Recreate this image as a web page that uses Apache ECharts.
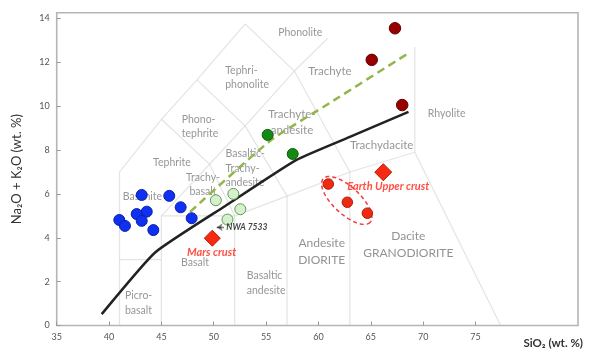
<!DOCTYPE html>
<html><head><meta charset="utf-8">
<script src="https://cdn.jsdelivr.net/npm/echarts@6/dist/echarts.min.js"></script>
<style>html,body{margin:0;padding:0;background:#fff}#c{width:590px;height:354px}</style>
</head><body><div id="c"></div>
<script>
// Axis ticks
const xTickValues = [35, 40, 45, 50, 55, 60, 65, 70, 75];
const yTickValues = [0, 2, 4, 6, 8, 10, 12, 14];

// TAS field boundaries (SiO2, Na2O+K2O)
const tasBoundaries = [
  [[41, 0], [41, 3], [41, 7], [45, 9.4], [48.4, 11.2], [53, 13.75]],
  [[41, 3], [45, 3]],
  [[45, 0], [45, 3], [45, 5]],
  [[45, 5], [49.6, 7.35], [53, 9.1], [57.7, 11.6]],
  [[57.7, 11.6], [60.9, 13.1]],
  [[45, 9.4], [49.6, 7.35], [52, 5]],
  [[48.4, 11.2], [53, 9.1], [57, 5.9]],
  [[53, 13.75], [57.7, 11.6], [63, 7]],
  [[45, 5], [52, 5], [57, 5.9], [63, 7], [69.2, 7.9]],
  [[69.2, 7.9], [69.2, 12.7]],
  [[69.2, 7.9], [77.4, 0]],
  [[52, 0], [52, 5]],
  [[57, 0], [57, 5.9]],
  [[63, 0], [63, 7]]
];

// Alkaline / subalkaline divider (solid black) and dashed green trend
const alkalineDivider = [[39.3, 0.52], [44.4, 3.33], [51.1, 5.45], [57.9, 7.55], [63.0, 8.6], [68.6, 9.74]];
const dashedTrend = [[47.74, 5.18], [55.37, 8.41], [61.1, 10.15], [68.58, 12.41]];

// Samples
const blueSamples = [[43.12, 5.95], [45.75, 5.91], [46.84, 5.39], [47.89, 4.89], [43.6, 5.19],
  [42.64, 5.08], [43.12, 4.77], [40.98, 4.81], [41.52, 4.54], [44.23, 4.35]];
const paleGreenSamples = [[50.2, 5.71], [51.87, 6.0], [52.54, 5.3], [51.31, 4.83]];
const darkGreenSamples = [[55.15, 8.69], [57.54, 7.82]];
const darkRedSamples = [[67.31, 13.55], [65.09, 12.11], [68.0, 10.05]];
const earthCrustSamples = [[60.94, 6.45], [62.76, 5.62], [64.67, 5.12]];
const earthUpperCrust = [[66.19, 6.99]];
const marsCrust = [[49.86, 3.98]];
const ellipseCenter = [[62.7, 5.7]];

// Field names
const centeredLabels = [
  [58.26, 13.35, 'Phonolite'],
  [46.01, 7.42, 'Tephrite'],
  [43.19, 5.87, 'Basanite'],
  [48.97, 6.43, 'Trachy-\nbasalt'],
  [72.25, 9.64, 'Rhyolite'],
  [48.21, 2.88, 'Basalt']
];
const largerLabels = [
  [61.1, 11.57, 'Trachyte'],
  [57.47, 9.28, 'Trachyte-\nandesite'],
  [66.04, 8.23, 'Trachydacite']
];
const leftLabels = [
  [51.09, 11.29, 'Tephri-\nphonolite'],
  [46.94, 9.07, 'Phono-\ntephrite'],
  [51.12, 7.17, 'Basaltic-\nTrachy-\nandesite'],
  [41.52, 1.03, 'Picro-\nbasalt'],
  [53.15, 1.94, 'Basaltic\nandesite']
];
const rockLabels = [
  [60.31, 3.35, 'Andesite\nDIORITE'],
  [68.58, 3.68, 'Dacite\nGRANODIORITE']
];
const redLabels = [
  [49.8, 3.34, 'Mars crust'],
  [66.67, 6.33, 'Earth Upper crust']
];
const nwaArrow = [[50.98, 4.48], [50.28, 4.48]];
const nwaLabel = [[51.2, 4.48, 'NWA 7533']];

const FONT = 'Lato';
const gray = '#7c7c7c';

function labelSeries(data, extra) {
  return Object.assign({
    type: 'scatter', symbolSize: 0, z: 1, silent: true,
    data: data,
    label: { show: true, position: 'inside', formatter: p => p.data[2],
      color: gray, fontFamily: FONT, fontSize: 10.5, lineHeight: 14.5, align: 'center' }
  }, extra || {});
}
function dots(data, size, fill, stroke, symbol) {
  return { type: 'scatter', data: data, symbol: symbol || 'circle', symbolSize: size, z: 5,
    itemStyle: { color: fill, borderColor: stroke, borderWidth: 1, opacity: 1 } };
}

const chart = echarts.init(document.getElementById('c'), null, { renderer: 'canvas' });
chart.setOption({
  animation: false,
  title: { text: 'SiO₂ (wt. %)', right: 2, bottom: 0,
    textStyle: { fontFamily: FONT, fontSize: 11.5, fontWeight: 'bold', color: '#333' } },
  grid: { left: 56.7, right: 12, top: 12.7, bottom: 28.5, show: true,
    borderColor: '#b5b5b5', borderWidth: 1.6, backgroundColor: 'transparent' },
  xAxis: { type: 'value', min: 35, max: 84.79,
    axisLine: { show: false }, splitLine: { show: false },
    axisTick: { show: true, inside: true, length: 4, customValues: xTickValues, lineStyle: { color: '#999' } },
    axisLabel: { customValues: xTickValues, fontFamily: FONT, fontSize: 9, color: '#555', margin: 7 } },
  yAxis: { type: 'value', min: 0, max: 14.26,
    name: 'Na₂O + K₂O (wt. %)', nameLocation: 'middle', nameGap: 33, nameRotate: 90,
    nameTextStyle: { fontFamily: FONT, fontSize: 13, color: '#333' },
    axisLine: { show: false }, splitLine: { show: false },
    axisTick: { show: true, inside: true, length: 4, customValues: yTickValues, lineStyle: { color: '#999' } },
    axisLabel: { customValues: yTickValues, fontFamily: FONT, fontSize: 9, color: '#555', margin: 7 } },
  series: [
    { type: 'lines', coordinateSystem: 'cartesian2d', polyline: true, z: 0, silent: true,
      data: tasBoundaries.map(c => ({ coords: c })),
      lineStyle: { color: '#c9c9c9', width: 1.2 } },
    labelSeries(centeredLabels),
    labelSeries(largerLabels, { label: { show: true, position: 'inside', formatter: p => p.data[2],
      color: gray, fontFamily: FONT, fontSize: 11.5, lineHeight: 16, align: 'center' } }),
    labelSeries(leftLabels, { label: { show: true, position: 'insideLeft', formatter: p => p.data[2],
      color: gray, fontFamily: FONT, fontSize: 10.5, lineHeight: 14.5, align: 'left', distance: 0 } }),
    labelSeries(rockLabels, { label: { show: true, position: 'inside', formatter: p => p.data[2],
      color: '#777', fontFamily: FONT, fontSize: 12, lineHeight: 17, align: 'center' } }),
    { type: 'line', data: alkalineDivider, symbol: 'none', smooth: 0.15, z: 3,
      lineStyle: { color: '#222', width: 2.5 } },
    { type: 'line', data: dashedTrend, symbol: 'none', smooth: 0.2, z: 3,
      lineStyle: { color: '#93b64a', width: 2.5, type: [8, 5] } },
    { type: 'custom', z: 4, silent: true, data: ellipseCenter,
      renderItem: (params, api) => {
        const c = api.coord([api.value(0), api.value(1)]);
        const a = 32, b = 13.5, th = 43 * Math.PI / 180, pts = [];
        for (let i = 0; i <= 72; i++) {
          const t = i / 72 * 2 * Math.PI, ex = a * Math.cos(t), ey = b * Math.sin(t);
          pts.push([c[0] + ex * Math.cos(th) - ey * Math.sin(th), c[1] + ex * Math.sin(th) + ey * Math.cos(th)]);
        }
        return { type: 'polygon', shape: { points: pts },
          style: { fill: 'none', stroke: '#f03c3c', lineWidth: 1.5, lineDash: [4, 3] } };
      } },
    dots(blueSamples, 11, '#0f30f0', '#0a20a8'),
    dots(paleGreenSamples, 11, '#d6efcf', '#5c9c50'),
    dots(darkGreenSamples, 11, '#138a13', '#0b5e0b'),
    dots(darkRedSamples, 11.5, '#960000', '#650000'),
    dots(earthCrustSamples, 10.5, '#f02a10', '#b01808'),
    dots(earthUpperCrust, 17, '#f52a10', '#b81a08', 'diamond'),
    dots(marsCrust, 16, '#f52a10', '#b81a08', 'diamond'),
    { type: 'lines', coordinateSystem: 'cartesian2d', z: 6, silent: true,
      data: [{ coords: nwaArrow }], symbol: ['none', 'arrow'], symbolSize: 6,
      lineStyle: { color: '#000', width: 1.3 } },
    labelSeries(nwaLabel, { z: 6, label: { show: true, position: 'insideLeft', formatter: p => p.data[2],
      color: '#111', fontFamily: FONT, fontSize: 8.5, fontStyle: 'italic', fontWeight: 'bold', distance: 0 } }),
    labelSeries(redLabels, { z: 6, label: { show: true, position: 'inside', formatter: p => p.data[2],
      color: '#ff2414', fontFamily: FONT, fontSize: 11, fontStyle: 'italic', fontWeight: 'bold' } })
  ]
});
</script></body></html>
